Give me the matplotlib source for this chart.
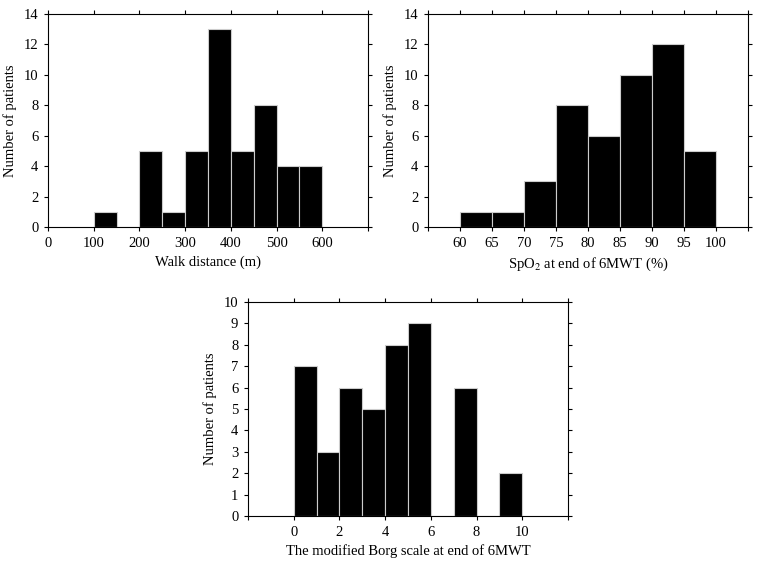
import matplotlib
matplotlib.use("Agg")
import matplotlib.pyplot as plt

plt.rcParams['font.family'] = ['Liberation Serif', 'DejaVu Serif']
plt.rcParams['mathtext.fontset'] = 'stix'

# walk distance histogram (bin left edges, width 50)
walk_edges = [100, 150, 200, 250, 300, 350, 400, 450, 500, 550]
walk_counts = [1, 0, 5, 1, 5, 13, 5, 8, 4, 4]

# SpO2 at end of 6MWT (bin left edges, width 5)
spo2_edges = [60, 65, 70, 75, 80, 85, 90, 95]
spo2_counts = [1, 1, 3, 8, 6, 10, 12, 5]

# modified Borg scale (bin left edges, width 1)
borg_edges = [0, 1, 2, 3, 4, 5, 6, 7, 8, 9]
borg_counts = [7, 3, 6, 5, 8, 9, 0, 6, 0, 2]

W, H = 761, 565
fig = plt.figure(figsize=(W / 100, H / 100), dpi=100)


def make_ax(l, r, t, b):
    return fig.add_axes([l / W, 1 - b / H, (r - l) / W, (b - t) / H])


def style(ax):
    ax.tick_params(direction='out', length=3, width=0.8, labelsize=10.5,
                   pad=4, top=True, right=True, labeltop=False, labelright=False)
    for s in ax.spines.values():
        s.set_linewidth(0.8)
    ax.set_ylabel("Number of patients", fontsize=10.5, labelpad=5)


def draw(ax, edges, counts, width):
    ax.bar(edges, counts, width=width, align='edge', color='black',
           edgecolor='#cccccc', linewidth=0.8)


ax1 = make_ax(48, 368, 14, 227)
draw(ax1, walk_edges, walk_counts, 50)
ax1.set_xlim(0, 700)
ax1.set_xticks(range(0, 701, 100))
ax1.set_xticklabels([str(v) for v in range(0, 601, 100)] + [""])
ax1.set_ylim(0, 14)
ax1.set_yticks(range(0, 15, 2))
ax1.set_xlabel("Walk distance (m)", fontsize=10.5)
style(ax1)

ax2 = make_ax(428, 748, 14, 227)
draw(ax2, spo2_edges, spo2_counts, 5)
ax2.set_xlim(55, 105)
ax2.set_xticks(range(55, 106, 5))
ax2.set_xticklabels([""] + [str(v) for v in range(60, 101, 5)] + [""])
ax2.set_ylim(0, 14)
ax2.set_yticks(range(0, 15, 2))
ax2.set_xlabel("SpO$_2$ at end of 6MWT (%)", fontsize=10.5)
style(ax2)

ax3 = make_ax(248, 568, 302, 516)
draw(ax3, borg_edges, borg_counts, 1)
ax3.set_xlim(-2, 12)
ax3.set_xticks(range(-2, 13, 2))
ax3.set_xticklabels([""] + [str(v) for v in range(0, 11, 2)] + [""])
ax3.set_ylim(0, 10)
ax3.set_yticks(range(0, 11, 1))
ax3.set_xlabel("The modified Borg scale at end of 6MWT", fontsize=10.5)
style(ax3)

fig.savefig("out.png", dpi=100)
plt.close()
